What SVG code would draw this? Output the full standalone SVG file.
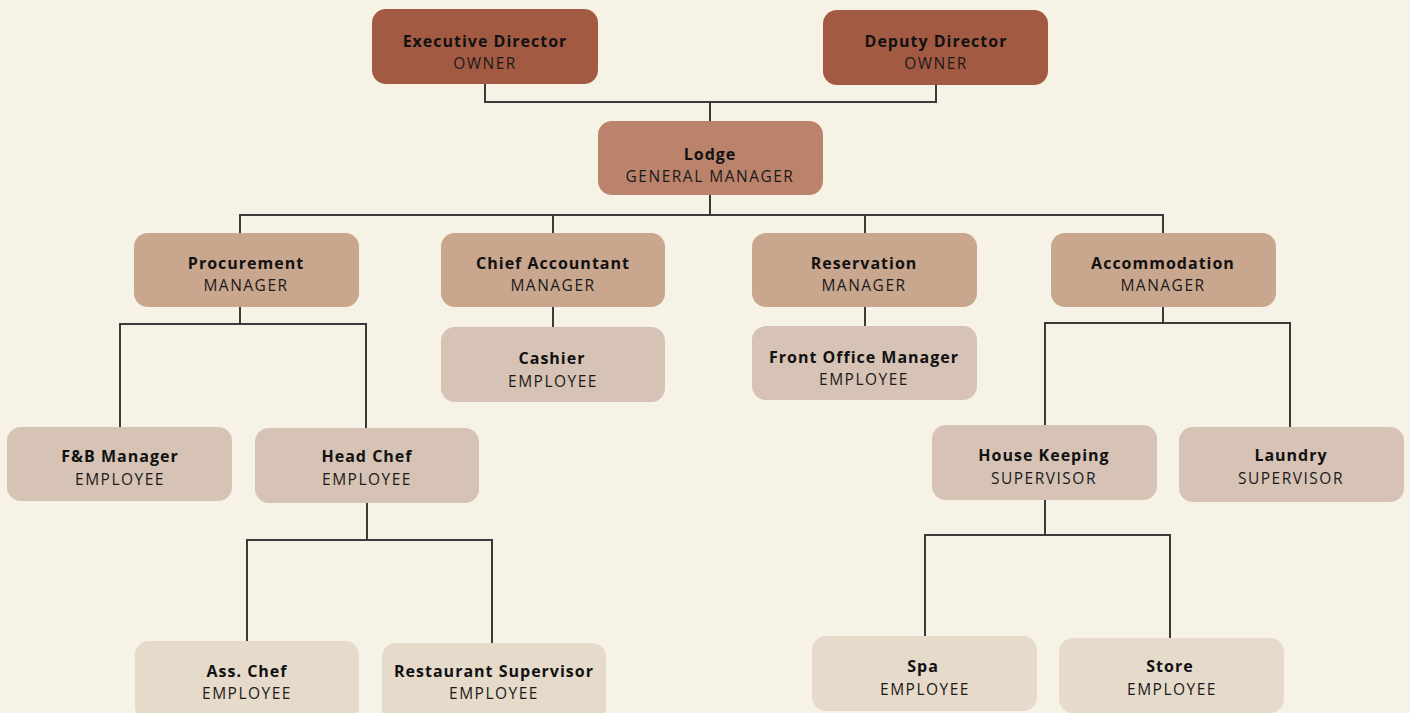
<svg xmlns="http://www.w3.org/2000/svg" width="1410" height="713" viewBox="0 0 1410 713">
<style>
.t{font-family:"Open Sans","Liberation Sans",sans-serif;font-weight:700;font-size:16px;fill:#111;text-anchor:middle;letter-spacing:1px}
.s{font-family:"Open Sans","Liberation Sans",sans-serif;font-weight:400;font-size:15.5px;fill:#1a1a1a;text-anchor:middle;letter-spacing:1.5px}
.c{fill:none;stroke:#3a3a3a;stroke-width:2}
.l0{fill:#a35a43}.l1{fill:#bb836b}.l2{fill:#c9a68e}.l3{fill:#d6c3b5}.l4{fill:#e6dacb}
</style>
<rect width="1410" height="713" fill="#f6f2e5"/>
<g id="connectors">
<path class="c" d="M485 84V102H936V85M710 102V121"/>
<path class="c" d="M710 195V214M240 233V215H1163V233M553 215V233M865 215V233"/>
<path class="c" d="M240 307V324M120 427V324H366V428"/>
<path class="c" d="M553 307V327"/>
<path class="c" d="M865 307V326"/>
<path class="c" d="M1163 307V322M1045 425V323H1290V427"/>
<path class="c" d="M367 503V539M247 641V540H492V643"/>
<path class="c" d="M1045 500V534M925 636V535H1170V638"/>
</g>
<g id="exec"><rect class="l0" x="372" y="9" width="226" height="75" rx="14"/><text class="t" x="485" y="47">Executive Director</text><text class="s" x="485" y="69">OWNER</text></g>
<g id="deputy"><rect class="l0" x="823" y="10" width="225" height="75" rx="14"/><text class="t" x="936" y="47">Deputy Director</text><text class="s" x="936" y="69">OWNER</text></g>
<g id="lodge"><rect class="l1" x="598" y="121" width="225" height="74" rx="14"/><text class="t" x="710" y="160">Lodge</text><text class="s" x="710" y="182">GENERAL MANAGER</text></g>
<g id="procurement"><rect class="l2" x="134" y="233" width="225" height="74" rx="14"/><text class="t" x="246" y="269">Procurement</text><text class="s" x="246" y="291">MANAGER</text></g>
<g id="chief-accountant"><rect class="l2" x="441" y="233" width="224" height="74" rx="14"/><text class="t" x="553" y="269">Chief Accountant</text><text class="s" x="553" y="291">MANAGER</text></g>
<g id="reservation"><rect class="l2" x="752" y="233" width="225" height="74" rx="14"/><text class="t" x="864" y="269">Reservation</text><text class="s" x="864" y="291">MANAGER</text></g>
<g id="accommodation"><rect class="l2" x="1051" y="233" width="225" height="74" rx="14"/><text class="t" x="1163" y="269">Accommodation</text><text class="s" x="1163" y="291">MANAGER</text></g>
<g id="cashier"><rect class="l3" x="441" y="327" width="224" height="75" rx="14"/><text class="t" x="552" y="364">Cashier</text><text class="s" x="553" y="387">EMPLOYEE</text></g>
<g id="front-office"><rect class="l3" x="752" y="326" width="225" height="74" rx="14"/><text class="t" x="864" y="363">Front Office Manager</text><text class="s" x="864" y="385">EMPLOYEE</text></g>
<g id="fb-manager"><rect class="l3" x="7" y="427" width="225" height="74" rx="14"/><text class="t" x="120" y="462">F&amp;B Manager</text><text class="s" x="120" y="485">EMPLOYEE</text></g>
<g id="head-chef"><rect class="l3" x="255" y="428" width="224" height="75" rx="14"/><text class="t" x="367" y="462">Head Chef</text><text class="s" x="367" y="485">EMPLOYEE</text></g>
<g id="house-keeping"><rect class="l3" x="932" y="425" width="225" height="75" rx="14"/><text class="t" x="1044" y="461">House Keeping</text><text class="s" x="1044" y="484">SUPERVISOR</text></g>
<g id="laundry"><rect class="l3" x="1179" y="427" width="225" height="75" rx="14"/><text class="t" x="1291" y="461">Laundry</text><text class="s" x="1291" y="484">SUPERVISOR</text></g>
<g id="ass-chef"><rect class="l4" x="135" y="641" width="224" height="80" rx="14"/><text class="t" x="247" y="677">Ass. Chef</text><text class="s" x="247" y="699">EMPLOYEE</text></g>
<g id="restaurant-supervisor"><rect class="l4" x="382" y="643" width="224" height="80" rx="14"/><text class="t" x="494" y="677">Restaurant Supervisor</text><text class="s" x="494" y="699">EMPLOYEE</text></g>
<g id="spa"><rect class="l4" x="812" y="636" width="225" height="75" rx="14"/><text class="t" x="923" y="672">Spa</text><text class="s" x="925" y="695">EMPLOYEE</text></g>
<g id="store"><rect class="l4" x="1059" y="638" width="225" height="75" rx="14"/><text class="t" x="1170" y="672">Store</text><text class="s" x="1172" y="695">EMPLOYEE</text></g>
</svg>
